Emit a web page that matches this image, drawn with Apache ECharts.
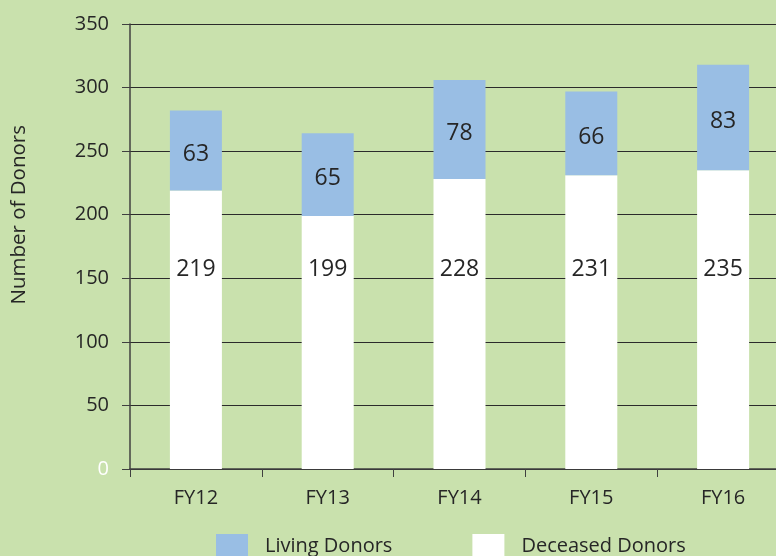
<!DOCTYPE html>
<html><head><meta charset="utf-8">
<script src="https://cdn.jsdelivr.net/npm/echarts@6/dist/echarts.min.js"></script>
<style>html,body{margin:0;padding:0;background:#c9e1ad;}#c{width:776px;height:556px;}</style>
</head><body><div id="c"></div>
<script>
const categories = ['FY12', 'FY13', 'FY14', 'FY15', 'FY16'];
const deceasedDonors = [219, 199, 228, 231, 235];
const livingDonors = [63, 65, 78, 66, 83];
const yTicks = [0, 50, 100, 150, 200, 250, 300, 350];

const font = 'Open Sans';
const chart = echarts.init(document.getElementById('c'));
chart.setOption({
  backgroundColor: '#c9e1ad',
  animation: false,
  textStyle: { fontFamily: font },
  grid: { left: 130, width: 659, top: 24, bottom: 87, outerBoundsMode: 'none', containLabel: false },
  legend: {
    left: 211, top: 529, itemWidth: 32, itemHeight: 25, itemGap: 80,
    data: ['Living Donors', 'Deceased Donors'],
    textStyle: { fontFamily: font, fontSize: 20, color: '#262626', padding: [0, 0, 0, 12] },
    icon: 'rect'
  },
  graphic: [{
    type: 'text', left: 9, top: 125, rotation: Math.PI / 2,
    style: { text: 'Number of Donors', fontFamily: font, fontSize: 20.5, fill: '#262626' },
    originX: 0, originY: 0
  }],
  xAxis: {
    type: 'category', data: categories,
    axisLine: { lineStyle: { color: '#404040', width: 1.5 } },
    axisTick: { show: true, length: 8, lineStyle: { color: '#404040' } },
    axisLabel: { fontFamily: font, fontSize: 20, color: '#262626', margin: 19 }
  },
  yAxis: {
    type: 'value', min: yTicks[0], max: yTicks[yTicks.length - 1], interval: 50,
    axisLine: { show: true, lineStyle: { color: '#404040', width: 1.5 } },
    axisTick: { show: true, length: 8, lineStyle: { color: '#404040' } },
    splitLine: { lineStyle: { color: '#2b2b2b', width: 1.2 } },
    axisLabel: {
      fontFamily: font, fontSize: 20, margin: 21, color: '#262626',
      formatter: function (v) { return v === 0 ? '{w|0}' : String(v); },
      rich: { w: { color: '#ffffff', fontFamily: font, fontSize: 20 } }
    }
  },
  series: [
    {
      name: 'Deceased Donors', type: 'bar', stack: 'd', barWidth: 52,
      data: deceasedDonors,
      itemStyle: { color: '#ffffff' },
      label: { show: true, position: 'insideBottom', distance: 188, fontFamily: font, fontSize: 23, color: '#262626' }
    },
    {
      name: 'Living Donors', type: 'bar', stack: 'd', barWidth: 52,
      data: livingDonors,
      itemStyle: { color: '#99bee4' },
      label: { show: true, position: 'inside', offset: [0, 4], fontFamily: font, fontSize: 23, color: '#262626' }
    }
  ]
});
</script></body></html>
